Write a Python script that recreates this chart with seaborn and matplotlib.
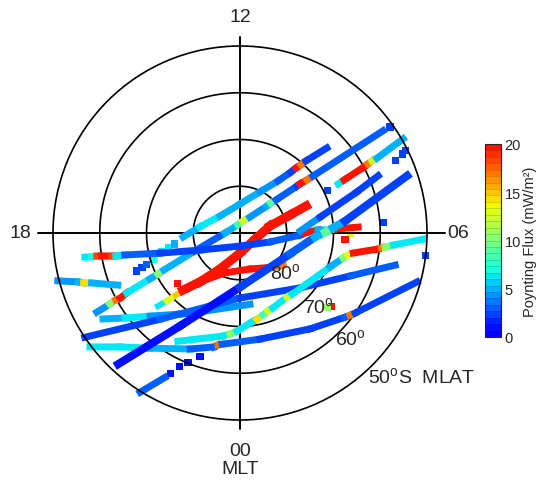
import numpy as np
import pandas as pd
import matplotlib
matplotlib.use("Agg")
import matplotlib.pyplot as plt
from matplotlib.collections import LineCollection
from matplotlib.colors import ListedColormap, Normalize
from matplotlib.cm import ScalarMappable
import seaborn as sns

sns.set_style("white")
plt.rcParams["font.family"] = ["Liberation Sans", "DejaVu Sans"]
plt.rcParams["mathtext.fontset"] = "custom"
plt.rcParams["mathtext.rm"] = "Liberation Sans"

# Satellite passes: magnetic local time (h), magnetic latitude (deg, south) and
# Poynting flux (mW/m^2) at each vertex of the pass.
pA0_mlt = [20.78, 20.86, 20.94, 21.03]
pA0_mlat = [-66.5, -68.6, -70.9, -72.9]
pA0_flux = [6, 13, 15, 20]

pA_mlt = [21.00, 21.38, 22.06, 0.00, 4.55, 6.88, 7.32, 7.48]
pA_mlat = [-72.7, -76.5, -81.2, -85.7, -86.5, -83.4, -78.6, -74.7]
pA_flux = [20, 20, 20, 20, 20, 20, 20, 20]

pB_mlt = [21.11, 21.56, 22.63, 1.03, 3.00, 3.56]
pB_mlat = [-73.8, -77.5, -80.9, -82.0, -79.7, -78.5]
pB_flux = [20, 20, 20, 20, 17, 17]

p1_mlt = [18.27, 17.43, 15.31, 12.00, 10.27, 9.59, 9.34, 9.28, 9.21, 9.17, 8.96]
p1_mlat = [-77.8, -81.3, -84.4, -83.8, -80.2, -76.2, -73.0, -71.6, -70.4, -69.1, -64.0]
p1_flux = [5, 6, 5, 5, 4, 3, 2, 20, 17, 2, 2]

p2_mlt = [19.93, 19.91, 19.89, 19.90, 19.86, 19.80, 19.77, 19.73, 19.45, 18.00, 12.94,
          11.06, 9.87, 9.00, 8.94, 8.83, 8.63, 8.62, 8.56, 8.53, 8.37]
p2_mlat = [-55.0, -58.3, -59.8, -60.8, -62.6, -68.4, -70.4, -71.9, -79.6, -86.8, -88.2,
           -87.4, -86.0, -81.8, -80.8, -79.5, -74.2, -73.4, -71.7, -70.2, -52.4]
p2_flux = [4, 10, 17, 20, 6, 5, 10, 5, 3, 5, 8, 12, 4, 5, 9, 3, 2, 20, 17, 3, 2]

p3_mlt = [18.59, 18.61, 18.61, 18.63, 18.68, 18.70, 18.72, 18.94, 19.54, 0.00, 4.89,
          5.87, 6.00, 6.15, 6.13, 6.16, 6.19]
p3_mlat = [-56.4, -57.9, -59.0, -60.0, -62.2, -63.0, -64.9, -72.3, -80.7, -87.2, -83.3,
           -77.1, -76.1, -73.3, -71.1, -69.6, -64.7]
p3_flux = [6, 7, 18, 20, 18, 6, 3, 2, 2, 2, 3, 3, 20, 5, 9, 20, 20]

p4_mlt = [18.98, 19.12, 19.18, 19.24, 19.54]
p4_mlat = [-49.7, -53.8, -54.9, -56.5, -61.6]
p4_flux = [4, 5, 14, 5, 4]

p5_mlt = [20.14, 20.43, 20.85, 21.56, 22.13, 22.39, 0.53]
p5_mlat = [-55.4, -59.4, -63.8, -68.4, -70.8, -71.7, -74.6]
p5_flux = [5, 6, 4, 3, 10, 4, 3]

p6_mlt = [20.26, 21.14, 0.00, 3.17, 4.58, 5.22]
p6_mlat = [-50.0, -64.8, -76.1, -72.6, -64.7, -56.1]
p6_flux = [2, 3, 2, 2, 3, 2]

p7_mlt = [20.48, 20.90, 21.46, 22.45, 23.14, 23.26, 23.39, 0.71, 2.41, 3.42, 3.55, 3.68, 4.97]
p7_mlat = [-49.7, -54.6, -58.7, -63.0, -65.0, -65.6, -65.9, -66.9, -64.6, -61.2, -60.6, -60.0, -50.7]
p7_flux = [6, 6, 5, 3, 3, 17, 3, 2, 2, 3, 17, 2, 2]

p8_mlt = [21.14, 21.81, 0.00, 4.48, 5.80, 6.04, 6.21, 6.43, 7.26]
p8_mlat = [-51.7, -66.3, -78.4, -78.4, -73.9, -71.8, -70.1, -67.4, -52.2]
p8_flux = [1, 1, 2, 3, 5, 9, 5, 2, 2]

p9_mlt = [21.86, 22.17]
p9_mlat = [-49.8, -55.2]
p9_flux = [3, 2]

p10_mlt = [22.01, 23.34, 23.62, 23.88, 0.51, 0.75, 1.04, 1.32, 1.58, 2.42, 2.70, 4.62,
           5.09, 5.23, 5.33, 5.56, 5.60, 5.63, 5.70, 5.87]
p10_mlat = [-63.3, -67.6, -68.3, -69.0, -70.8, -71.2, -71.8, -72.3, -72.5, -73.0, -72.8, -69.4,
            -67.3, -66.4, -65.4, -60.3, -59.6, -58.8, -57.1, -50.8]
p10_flux = [6, 6, 10, 6, 6, 14, 8, 12, 6, 12, 6, 5, 10, 13, 20, 20, 17, 10, 6, 2]

p11_mlt = [7.77, 7.80, 7.87, 7.89, 7.91, 7.91, 8.00]
p11_mlat = [-66.5, -65.0, -59.9, -58.9, -57.8, -56.6, -49.7]
p11_flux = [6, 20, 20, 17, 12, 5, 2]

p12_mlt = [6.13, 6.75, 7.29, 7.50]
p12_mlat = [-77.1, -72.5, -63.5, -58.0]
p12_flux = [4, 2, 2, 2]

# Isolated samples
pt_mlt = [19.35, 19.28, 19.23, 19.11, 18.91, 18.78, 18.63, 20.59, 8.35, 5.97, 5.75, 5.53,
          22.25, 22.39, 22.54, 22.80, 7.72, 6.27, 7.66, 7.73, 7.76, 3.42, 3.31]
pt_mlat = [-66.5, -67.8, -69.0, -70.6, -72.8, -74.3, -75.7, -72.9, -50.7, -66.4, -67.5, -50.1,
           -56.6, -58.6, -60.2, -62.3, -69.3, -59.3, -53.4, -51.4, -50.5, -65.0, -65.5]
pt_flux = [2, 2, 3, 7, 6, 6, 5, 20, 2, 13, 20, 2, 1, 1, 1, 1, 2, 2, 2, 2, 2, 20, 11]

# (mlt, mlat, flux, band width in points)
passes = [
    (pA0_mlt, pA0_mlat, pA0_flux, 4.3),
    (pA_mlt, pA_mlat, pA_flux, 6.5),
    (pB_mlt, pB_mlat, pB_flux, 5.0),
    (p1_mlt, p1_mlat, p1_flux, 5.0),
    (p2_mlt, p2_mlat, p2_flux, 5.0),
    (p3_mlt, p3_mlat, p3_flux, 5.0),
    (p4_mlt, p4_mlat, p4_flux, 5.0),
    (p5_mlt, p5_mlat, p5_flux, 5.0),
    (p6_mlt, p6_mlat, p6_flux, 5.0),
    (p7_mlt, p7_mlat, p7_flux, 5.0),
    (p8_mlt, p8_mlat, p8_flux, 5.8),
    (p9_mlt, p9_mlat, p9_flux, 5.0),
    (p10_mlt, p10_mlat, p10_flux, 5.0),
    (p11_mlt, p11_mlat, p11_flux, 5.0),
    (p12_mlt, p12_mlat, p12_flux, 5.0),
]

cmap = ListedColormap(plt.get_cmap("jet")(np.linspace(0.11, 0.89, 30)))
norm = Normalize(0, 20)


def theta(mlt):
    return np.asarray(mlt) * np.pi / 12


def colat(mlat):
    return 90 + np.asarray(mlat)


fig = plt.figure(figsize=(5.42, 4.81), dpi=100)
ax = fig.add_axes([53/542, 60/481, 374/542, 374/481], projection="polar")
ax.set_theta_zero_location("S")
ax.set_theta_direction(1)
ax.grid(False)

# latitude circles and the noon-midnight / dawn-dusk cross
ring = np.linspace(0, 2*np.pi, 361)
for r in (10, 20, 30):
    ax.plot(ring, np.full_like(ring, r), color="k", lw=1.2)
for t, rr in ((0, 42), (np.pi/2, 43.9), (np.pi, 42), (1.5*np.pi, 43.3)):
    ax.plot([t, t], [0, rr], color="k", lw=1.4, clip_on=False)

for mlt, mlat, flux, w in passes:
    t = theta(mlt)
    r = colat(mlat)
    segs = [[(t[i], r[i]), (t[i+1], r[i+1])] for i in range(len(t) - 1)]
    lc = LineCollection(segs, colors=cmap(norm(flux[:-1])), linewidths=w, capstyle="projecting")
    lc.set_clip_on(False)
    ax.add_collection(lc)

pts = pd.DataFrame({"theta": theta(pt_mlt), "r": colat(pt_mlat), "flux": pt_flux})
sns.scatterplot(data=pts, x="theta", y="r", hue="flux", palette=cmap, hue_norm=norm,
                marker="s", s=26, linewidth=0, legend=False, ax=ax, clip_on=False)

ax.set_ylim(0, 40)
ax.set_xticks([])
ax.set_yticks([])
ax.set_xlabel("")
ax.set_ylabel("")
ax.spines["polar"].set_color("k")
ax.spines["polar"].set_linewidth(1.2)


def ftext(px, py, s, **kw):
    fig.text(px/542, 1 - py/481, s, **kw)


for px, py, s in ((240, 18, "12"), (458, 234, "06"), (20, 234, "18"),
                  (240, 452, "00"), (240, 470, "MLT")):
    ftext(px, py, s, ha="center", va="center", fontsize=14)
for px, py, s in ((285, 274, "80"), (318, 308, "70"), (350, 340, "60")):
    ftext(px, py, s + r"$^{\rm o}$", ha="center", va="center", fontsize=14)
ftext(368, 378, r"50$^{\rm o}$S  MLAT", ha="left", va="center", fontsize=14)

cax = fig.add_axes([485/542, (481-338)/481, 16/542, 193/481])
cb = fig.colorbar(ScalarMappable(norm=norm, cmap=cmap), cax=cax,
                  ticks=[0, 5, 10, 15, 20], drawedges=True)
cb.dividers.set_color((0, 0, 0, 0.2))
cb.dividers.set_linewidth(0.5)
cb.outline.set_linewidth(0.8)
cb.ax.tick_params(length=0, labelsize=10.5, pad=2.5)
cb.set_label("Poynting Flux (mW/m²)", fontsize=10.5)
cb.ax.yaxis.set_label_coords(2.4, 0.5)

fig.savefig("out.png", dpi=100)
